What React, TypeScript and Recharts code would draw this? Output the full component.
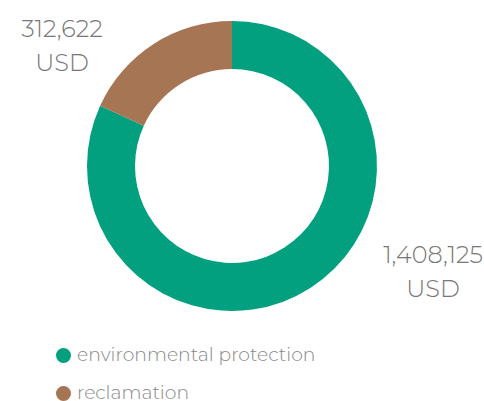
import { PieChart, Pie, Cell, Legend } from "recharts";

const categories = ["environmental protection", "reclamation"];
const amounts = [1408125, 312622];
const colors = ["#02a07f", "#a67554"];

const data = categories.map((name, i) => ({ name, value: amounts[i] }));

const FONT = "Montserrat, 'Open Sans', sans-serif";

function fmt(v: number) {
  return v.toLocaleString("en-US");
}

function SliceLabel({ cx, cy, outerRadius, index, value }: any) {
  // labels sit beside the ring, left for the small slice and right for the big one
  const left = index === 1;
  const x = left ? cx - outerRadius - 25 : cx + outerRadius + 56;
  const y = left ? cy - 129 : cy + 97;
  return (
    <text
      x={x}
      y={y}
      textAnchor="middle"
      fill="#777"
      fontFamily={FONT}
      fontSize={24}
      fontWeight={300}
    >
      <tspan x={x}>{fmt(value)}</tspan>
      <tspan x={x} dy={34}>USD</tspan>
    </text>
  );
}

function LegendList({ payload }: any) {
  return (
    <div style={{ fontFamily: FONT }}>
      {payload?.map((p: any, i: number) => (
        <div
          key={p.value}
          style={{
            display: "flex",
            alignItems: "center",
            height: 16,
            lineHeight: "16px",
            marginTop: i ? 22 : 0,
          }}
        >
          <span
            style={{
              width: 15,
              height: 15,
              borderRadius: "50%",
              background: p.color,
              marginRight: 6,
            }}
          />
          <span style={{ color: "#888", fontSize: 18.8, fontWeight: 300 }}>
            {p.value}
          </span>
        </div>
      ))}
    </div>
  );
}

export default function App() {
  return (
    <div style={{ position: "absolute", left: 0, top: 0, background: "#fff" }}>
      <PieChart
        width={484}
        height={401}
        margin={{ top: 0, right: 0, bottom: 0, left: 0 }}
      >
        <Pie
          data={data}
          dataKey="value"
          nameKey="name"
          cx={232}
          cy={166}
          innerRadius={97}
          outerRadius={145}
          startAngle={90}
          endAngle={-270}
          stroke="none"
          label={<SliceLabel />}
          labelLine={false}
          isAnimationActive={false}
        >
          {data.map((d, i) => (
            <Cell key={d.name} fill={colors[i]} />
          ))}
        </Pie>
        <Legend
          content={<LegendList />}
          wrapperStyle={{ left: 56, top: 347, width: 320 }}
        />
      </PieChart>
    </div>
  );
}
